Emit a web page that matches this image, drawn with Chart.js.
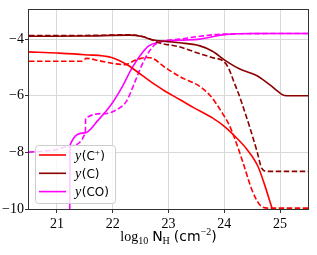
<!DOCTYPE html>
<html>
<head>
<meta charset="utf-8">
<script src="https://cdn.jsdelivr.net/npm/chart.js@4.4.1/dist/chart.umd.min.js"></script>
<style>
  html, body { margin: 0; padding: 0; background: #fff; }
  #wrap { width: 317px; height: 255px; position: relative; }
</style>
</head>
<body>
<div id="wrap"><canvas id="chem"></canvas></div>
<script>
// Abundance profiles vs column density: solid and dashed runs for C+, C, CO.

// ----- Axis ticks -----
const xTicks = [21, 22, 23, 24, 25];
const yTicks = [-10, -8, -6, -4];

// ----- y(C+) -----
const cpSolidX = [20.5, 21.0, 21.5, 21.98, 22.28, 22.52, 22.76, 22.94, 23.2, 23.45, 23.8, 24.0, 24.2, 24.4, 24.6, 24.72, 24.86, 24.95, 25.5];
const cpSolidY = [-4.45, -4.49, -4.55, -4.65, -4.93, -5.27, -5.61, -5.84, -6.13, -6.42, -6.8, -7.08, -7.45, -7.88, -8.48, -9.13, -10.0, -10.5, -11.0];
const cpDashX = [20.5, 21.0, 21.45, 21.53, 21.75, 22.04, 22.22, 22.4, 22.6, 22.7, 22.94, 23.2, 23.56, 23.75, 23.86, 23.97, 24.08, 24.17, 24.35, 24.49, 24.64, 24.78, 25.5];
const cpDashY = [-4.78, -4.78, -4.78, -4.68, -4.76, -4.87, -4.9, -4.75, -4.65, -4.67, -5.0, -5.32, -5.67, -6.0, -6.29, -6.63, -7.0, -7.42, -8.45, -9.3, -9.86, -9.97, -9.97];

// ----- y(C) -----
const cSolidX = [20.5, 21.5, 22.3, 22.53, 22.71, 22.95, 23.2, 23.55, 23.78, 24.02, 24.26, 24.56, 24.74, 24.92, 25.03, 25.12, 25.5];
const cSolidY = [-3.9, -3.89, -3.86, -3.91, -4.02, -4.08, -4.13, -4.23, -4.42, -4.76, -5.04, -5.27, -5.5, -5.78, -5.95, -6.0, -6.0];
const cDashX = [20.5, 21.5, 22.3, 22.6, 22.83, 23.19, 23.54, 23.78, 23.99, 24.08, 24.17, 24.26, 24.32, 24.47, 24.59, 24.67, 24.76, 25.5];
const cDashY = [-3.87, -3.87, -3.85, -3.95, -4.13, -4.27, -4.5, -4.65, -4.79, -5.04, -5.5, -5.95, -6.29, -7.2, -7.99, -8.56, -8.67, -8.67];

// ----- y(CO) -----
const coSolidX = [21.23, 21.235, 21.5, 21.74, 21.98, 22.16, 22.34, 22.49, 22.64, 22.82, 23.2, 23.56, 23.97, 24.5, 25.5];
const coSolidY = [-10.3, -7.75, -7.31, -6.86, -6.29, -5.72, -5.04, -4.59, -4.25, -4.11, -4.04, -4.0, -3.85, -3.8, -3.8];
const coDashX = [20.5, 20.8, 21.0, 21.23, 21.51, 21.515, 21.86, 22.1, 22.25, 22.4, 22.52, 22.64, 22.76, 22.88, 23.2, 23.56, 24.0, 25.5];
const coDashY = [-7.99, -7.95, -7.9, -7.77, -7.3, -6.8, -6.63, -6.46, -6.18, -5.5, -4.93, -4.48, -4.19, -4.08, -4.0, -3.9, -3.82, -3.8];

// ----- Legend -----
const legendSpecies = ['C', 'C', 'CO'];
const legendCharge = ['+', '', ''];

const RED = '#ff0000';
const DARKRED = '#8b0000';
const MAGENTA = '#ff00ff';
const lineColors = [RED, DARKRED, MAGENTA];

const SERIF = '"Liberation Serif", "DejaVu Serif", serif';
const SANS = '"DejaVu Sans", sans-serif';

function pts(xs, ys) {
  return xs.map(function (x, i) { return { x: x, y: ys[i] }; });
}

function line(xs, ys, color, dashed) {
  return {
    data: pts(xs, ys),
    borderColor: color,
    borderWidth: 1.6,
    borderDash: dashed ? [5.5, 2.5] : [],
    pointRadius: 0,
    fill: false,
    cubicInterpolationMode: 'monotone',
    clip: { left: 0, top: 0, right: 0, bottom: 1 }
  };
}

// Draw a run of mixed-font text pieces; returns total width.
function drawRuns(ctx, x, y, runs, measureOnly) {
  let cx = x;
  runs.forEach(function (r) {
    ctx.font = r[1];
    if (!measureOnly) { ctx.fillText(r[0], cx, y + (r[2] || 0)); }
    cx += ctx.measureText(r[0]).width + (r[3] || 0);
  });
  return cx - x;
}

const decorPlugin = {
  id: 'decor',
  afterDraw: function (chart) {
    const ctx = chart.ctx;
    const a = chart.chartArea;
    ctx.save();

    // axes frame
    ctx.strokeStyle = '#333';
    ctx.lineWidth = 1;
    ctx.strokeRect(Math.round(a.left) - 0.5, Math.round(a.top) + 0.5,
      Math.round(a.right - a.left) + 1, Math.round(a.bottom - a.top));

    // legend box
    const bx = 35, by = 145, bw = 80, bh = 58;
    ctx.beginPath();
    ctx.roundRect(bx + 0.5, by + 0.5, bw, bh, 3);
    ctx.fillStyle = 'rgba(255,255,255,0.8)';
    ctx.fill();
    ctx.strokeStyle = '#cccccc';
    ctx.lineWidth = 1;
    ctx.stroke();

    ctx.textBaseline = 'alphabetic';
    legendSpecies.forEach(function (sp, i) {
      const ly = 155 + i * 18.3;
      ctx.beginPath();
      ctx.strokeStyle = lineColors[i];
      ctx.lineWidth = 1.6;
      ctx.moveTo(39, ly);
      ctx.lineTo(66, ly);
      ctx.stroke();
      ctx.fillStyle = '#000';
      const runs = [
        ['y', 'italic 14px ' + SERIF, 0, 0.5],
        ['(' + sp, '12px ' + SANS, 0]
      ];
      if (legendCharge[i]) { runs.push([legendCharge[i], '9px ' + SERIF, -5, 0.5]); }
      runs.push([')', '12px ' + SANS, 0]);
      drawRuns(ctx, 75, ly + 4.5, runs);
    });

    // x axis title
    const titleRuns = [
      ['log', '14px ' + SERIF, 0],
      ['10', '10px ' + SERIF, 3, 4],
      ['N', '14px ' + SANS, 0],
      ['H', '10px ' + SERIF, 3, 4],
      ['(cm', '14px ' + SANS, 0],
      ['\u22122', '10px ' + SERIF, -6],
      [')', '14px ' + SANS, 0]
    ];
    const tw = drawRuns(ctx, 0, 0, titleRuns, true);
    const cx = (a.left + a.right) / 2;
    drawRuns(ctx, cx - tw / 2, 241, titleRuns);

    ctx.restore();
  }
};

new Chart(document.getElementById('chem'), {
  type: 'line',
  data: {
    datasets: [
      line(cpSolidX, cpSolidY, RED, false),
      line(cpDashX, cpDashY, RED, true),
      line(cSolidX, cSolidY, DARKRED, false),
      line(cDashX, cDashY, DARKRED, true),
      line(coSolidX, coSolidY, MAGENTA, false),
      line(coDashX, coDashY, MAGENTA, true)
    ]
  },
  plugins: [decorPlugin],
  options: {
    responsive: true,
    maintainAspectRatio: false,
    animation: false,
    layout: { padding: { top: 2, right: 9, left: 0, bottom: 0 } },
    plugins: { legend: { display: false }, tooltip: { enabled: false } },
    scales: {
      x: {
        type: 'linear',
        min: 20.5,
        max: 25.5,
        afterBuildTicks: function (scale) { scale.ticks = xTicks.map(function (v) { return { value: v }; }); },
        afterFit: function (scale) { scale.height = 46; },
        border: { display: false },
        grid: { color: '#d9d9d9', lineWidth: 1, tickLength: 4, tickColor: '#333', drawTicks: true },
        ticks: {
          color: '#000',
          padding: 3,
          maxRotation: 0,
          font: { family: SERIF, size: 14 },
          callback: function (v) { return String(v); }
        }
      },
      y: {
        type: 'linear',
        min: -10,
        max: -2.95,
        afterBuildTicks: function (scale) { scale.ticks = yTicks.map(function (v) { return { value: v }; }); },
        afterFit: function (scale) { scale.width = 29; },
        border: { display: false },
        grid: { color: '#d9d9d9', lineWidth: 1, tickLength: 4, tickColor: '#333', drawTicks: true },
        ticks: {
          color: '#000',
          padding: 1,
          font: { family: SERIF, size: 14 },
          callback: function (v) { return v < 0 ? '\u2212' + Math.abs(v) : String(v); }
        }
      }
    }
  }
});
</script>
</body>
</html>
